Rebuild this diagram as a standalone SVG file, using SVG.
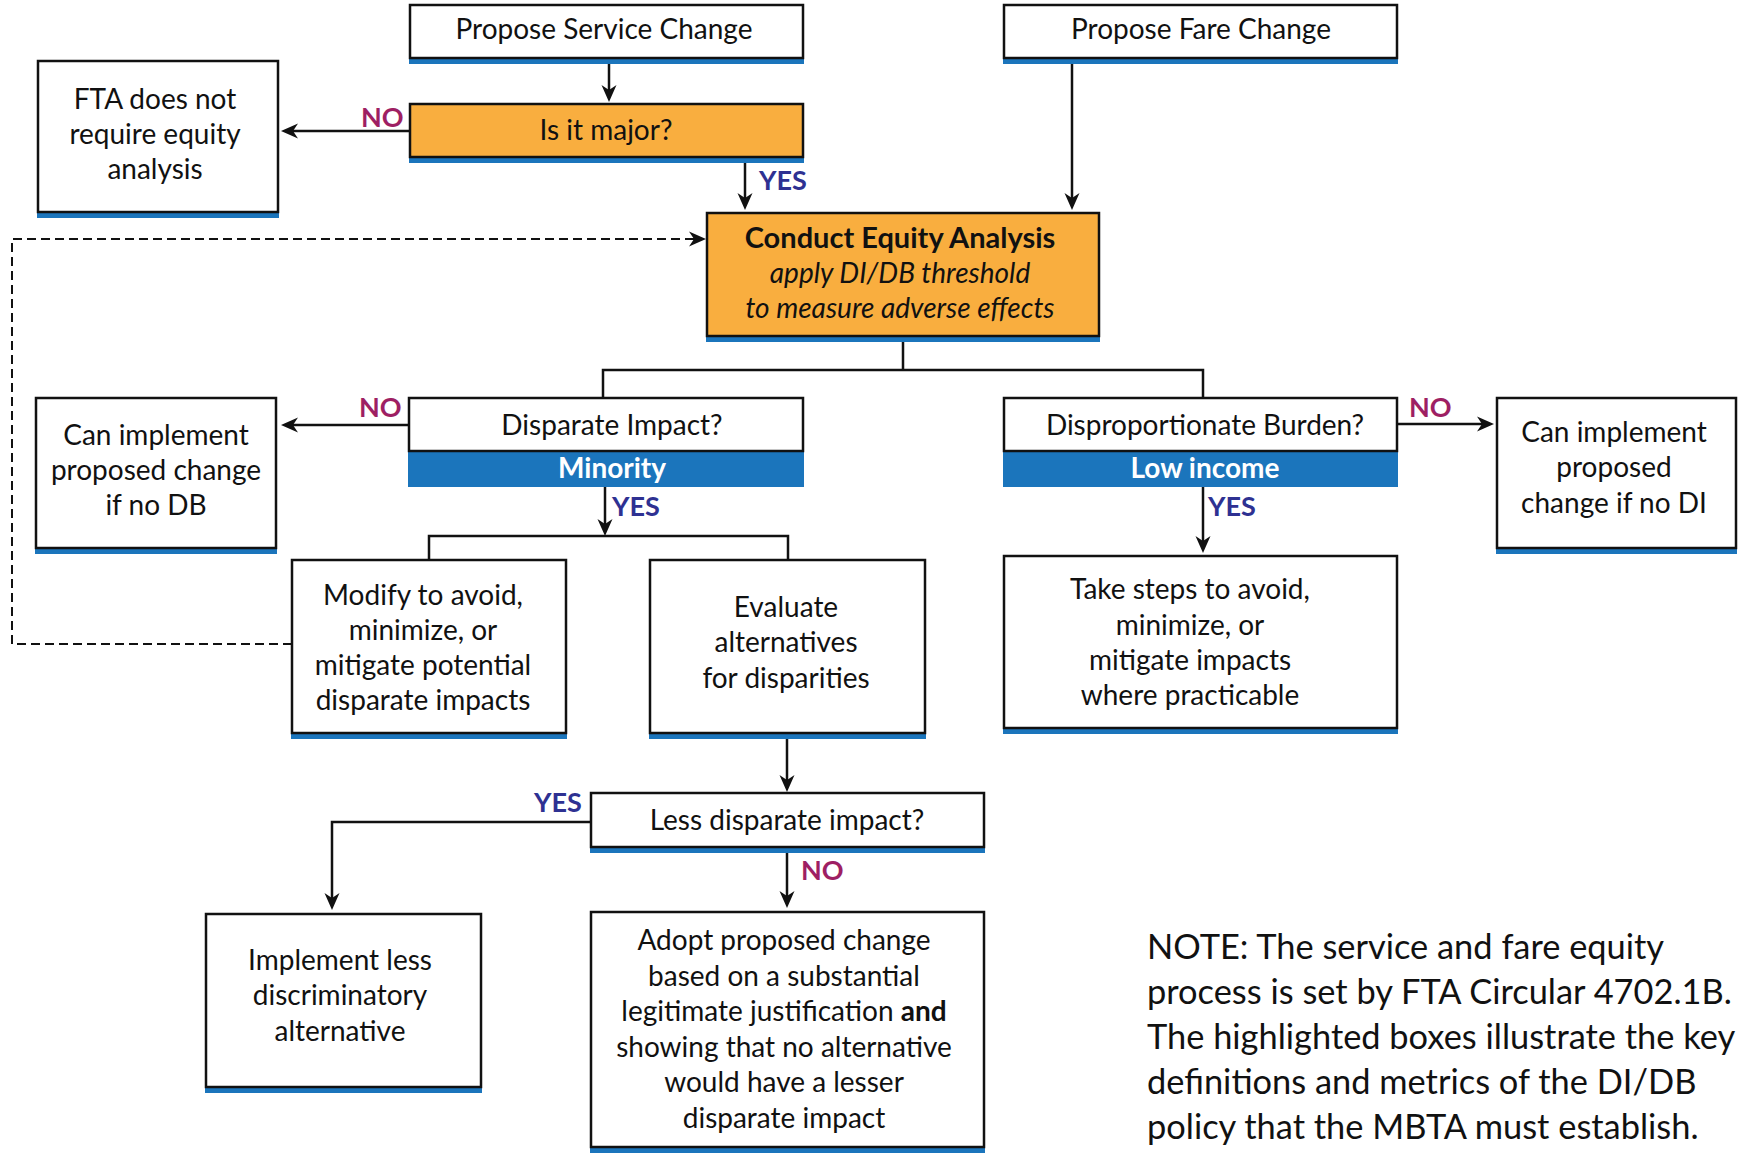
<svg xmlns="http://www.w3.org/2000/svg" width="1739" height="1154" viewBox="0 0 1739 1154">
<style>
  .box{fill:#ffffff;stroke:#111111;stroke-width:2.5}
  .org{fill:#F9AE3F;stroke:#111111;stroke-width:2.5}
  .bar{fill:#1B75BC}
  .t{font-family:Lato,"Open Sans",sans-serif;font-size:28px;fill:#111111;text-anchor:middle}
  .tb{font-weight:bold;font-size:29px}
  .ti{font-style:italic}
  .w{fill:#ffffff;font-weight:bold}
  .no{font-family:Lato,"Open Sans",sans-serif;font-size:27px;font-weight:bold;fill:#9E1F63}
  .yes{font-family:Lato,"Open Sans",sans-serif;font-size:27px;font-weight:bold;fill:#2E3192}
  .c{fill:none;stroke:#111111;stroke-width:2.5}
  .d{fill:none;stroke:#111111;stroke-width:2;stroke-dasharray:9 5}
  .note{font-family:Lato,"Open Sans",sans-serif;font-size:34.4px;fill:#111111}
</style>
<defs>
  <marker id="ah" viewBox="-18 -9 19 18" refX="-6" refY="0" markerWidth="19" markerHeight="18" orient="auto" markerUnits="userSpaceOnUse">
    <path d="M0,0 L-17,-7.5 L-12,0 L-17,7.5 Z" fill="#111111"/>
  </marker>
</defs>

<g id="connectors">
  <path class="c" d="M609,64 V96" marker-end="url(#ah)"/>
  <path class="c" d="M410,131 H287" marker-end="url(#ah)"/>
  <path class="c" d="M745,163 V204" marker-end="url(#ah)"/>
  <path class="c" d="M1072,64 V204" marker-end="url(#ah)"/>
  <path class="d" d="M292,644 H12 V239 H700" marker-end="url(#ah)"/>
  <path class="c" d="M903,341 V370 M603,398 V370 H1203 V398"/>
  <path class="c" d="M409,425 H287" marker-end="url(#ah)"/>
  <path class="c" d="M605,487 V530" marker-end="url(#ah)"/>
  <path class="c" d="M429,560 V536 H788 V560"/>
  <path class="c" d="M1397,424 H1488" marker-end="url(#ah)"/>
  <path class="c" d="M1203,487 V547" marker-end="url(#ah)"/>
  <path class="c" d="M787,739 V786" marker-end="url(#ah)"/>
  <path class="c" d="M591,822 H332 V904" marker-end="url(#ah)"/>
  <path class="c" d="M787,853 V902" marker-end="url(#ah)"/>
  <text class="no" x="361" y="127">NO</text>
  <text class="yes" x="759" y="190">YES</text>
  <text class="no" x="359" y="417">NO</text>
  <text class="yes" x="612" y="516">YES</text>
  <text class="no" x="1409" y="417">NO</text>
  <text class="yes" x="1208" y="516">YES</text>
  <text class="yes" x="534" y="812">YES</text>
  <text class="no" x="801" y="880">NO</text>
</g>

<g id="propose-service">
  <rect class="bar" x="409" y="58" width="395" height="6"/>
  <rect class="box" x="410" y="5" width="393" height="53"/>
  <text class="t" x="604" y="39">Propose Service Change</text>
</g>
<g id="propose-fare">
  <rect class="bar" x="1003" y="58" width="395" height="6"/>
  <rect class="box" x="1004" y="5" width="393" height="53"/>
  <text class="t" x="1201" y="39">Propose Fare Change</text>
</g>
<g id="fta-no-analysis">
  <rect class="bar" x="37" y="212" width="242" height="6"/>
  <rect class="box" x="38" y="61" width="240" height="151"/>
  <text class="t" x="155" y="109">FTA does not</text>
  <text class="t" x="155" y="144">require equity</text>
  <text class="t" x="155" y="179">analysis</text>
</g>
<g id="is-major">
  <rect class="bar" x="409" y="157" width="395" height="6"/>
  <rect class="org" x="410" y="104" width="393" height="53"/>
  <text class="t" x="606" y="140">Is it major?</text>
</g>
<g id="conduct-analysis">
  <rect class="bar" x="706" y="336" width="394" height="6"/>
  <rect class="org" x="707" y="213" width="392" height="123"/>
  <text class="t tb" x="900" y="248">Conduct Equity Analysis</text>
  <text class="t ti" x="900" y="283">apply DI/DB threshold</text>
  <text class="t ti" x="900" y="318">to measure adverse effects</text>
</g>
<g id="disparate-impact">
  <rect class="bar" x="408" y="451" width="396" height="36"/>
  <rect class="box" x="409" y="398" width="394" height="53"/>
  <text class="t" x="612" y="435">Disparate Impact?</text>
  <text class="t w" x="612" y="478">Minority</text>
</g>
<g id="disproportionate-burden">
  <rect class="bar" x="1003" y="451" width="395" height="36"/>
  <rect class="box" x="1004" y="398" width="393" height="53"/>
  <text class="t" x="1205" y="435">Disproportionate Burden?</text>
  <text class="t w" x="1205" y="478">Low income</text>
</g>
<g id="implement-if-no-db">
  <rect class="bar" x="35" y="548" width="242" height="6"/>
  <rect class="box" x="36" y="398" width="240" height="150"/>
  <text class="t" x="156" y="445">Can implement</text>
  <text class="t" x="156" y="480">proposed change</text>
  <text class="t" x="156" y="515">if no DB</text>
</g>
<g id="implement-if-no-di">
  <rect class="bar" x="1496" y="548" width="241" height="6"/>
  <rect class="box" x="1497" y="398" width="239" height="150"/>
  <text class="t" x="1614" y="442">Can implement</text>
  <text class="t" x="1614" y="477">proposed</text>
  <text class="t" x="1614" y="513">change if no DI</text>
</g>
<g id="modify">
  <rect class="bar" x="291" y="733" width="276" height="6"/>
  <rect class="box" x="292" y="560" width="274" height="173"/>
  <text class="t" x="423" y="605">Modify to avoid,</text>
  <text class="t" x="423" y="640">minimize, or</text>
  <text class="t" x="423" y="675">mitigate potential</text>
  <text class="t" x="423" y="710">disparate impacts</text>
</g>
<g id="evaluate">
  <rect class="bar" x="649" y="733" width="277" height="6"/>
  <rect class="box" x="650" y="560" width="275" height="173"/>
  <text class="t" x="786" y="617">Evaluate</text>
  <text class="t" x="786" y="652">alternatives</text>
  <text class="t" x="786" y="688">for disparities</text>
</g>
<g id="take-steps">
  <rect class="bar" x="1003" y="728" width="395" height="6"/>
  <rect class="box" x="1004" y="556" width="393" height="172"/>
  <text class="t" x="1190" y="599">Take steps to avoid,</text>
  <text class="t" x="1190" y="635">minimize, or</text>
  <text class="t" x="1190" y="670">mitigate impacts</text>
  <text class="t" x="1190" y="705">where practicable</text>
</g>
<g id="less-disparate">
  <rect class="bar" x="590" y="847" width="395" height="6"/>
  <rect class="box" x="591" y="793" width="393" height="54"/>
  <text class="t" x="787" y="830">Less disparate impact?</text>
</g>
<g id="implement-less">
  <rect class="bar" x="205" y="1087" width="277" height="6"/>
  <rect class="box" x="206" y="914" width="275" height="173"/>
  <text class="t" x="340" y="970">Implement less</text>
  <text class="t" x="340" y="1005">discriminatory</text>
  <text class="t" x="340" y="1041">alternative</text>
</g>
<g id="adopt">
  <rect class="bar" x="590" y="1147" width="395" height="6"/>
  <rect class="box" x="591" y="912" width="393" height="235"/>
  <text class="t" x="784" y="950">Adopt proposed change</text>
  <text class="t" x="784" y="986">based on a substantial</text>
  <text class="t" x="784" y="1021">legitimate justification <tspan font-weight="bold">and</tspan></text>
  <text class="t" x="784" y="1057">showing that no alternative</text>
  <text class="t" x="784" y="1092">would have a lesser</text>
  <text class="t" x="784" y="1128">disparate impact</text>
</g>
<g id="note">
  <text class="note" x="1147" y="959">NOTE: The service and fare equity</text>
  <text class="note" x="1147" y="1004">process is set by FTA Circular 4702.1B.</text>
  <text class="note" x="1147" y="1049">The highlighted boxes illustrate the key</text>
  <text class="note" x="1147" y="1094">definitions and metrics of the DI/DB</text>
  <text class="note" x="1147" y="1139">policy that the MBTA must establish.</text>
</g>
</svg>
